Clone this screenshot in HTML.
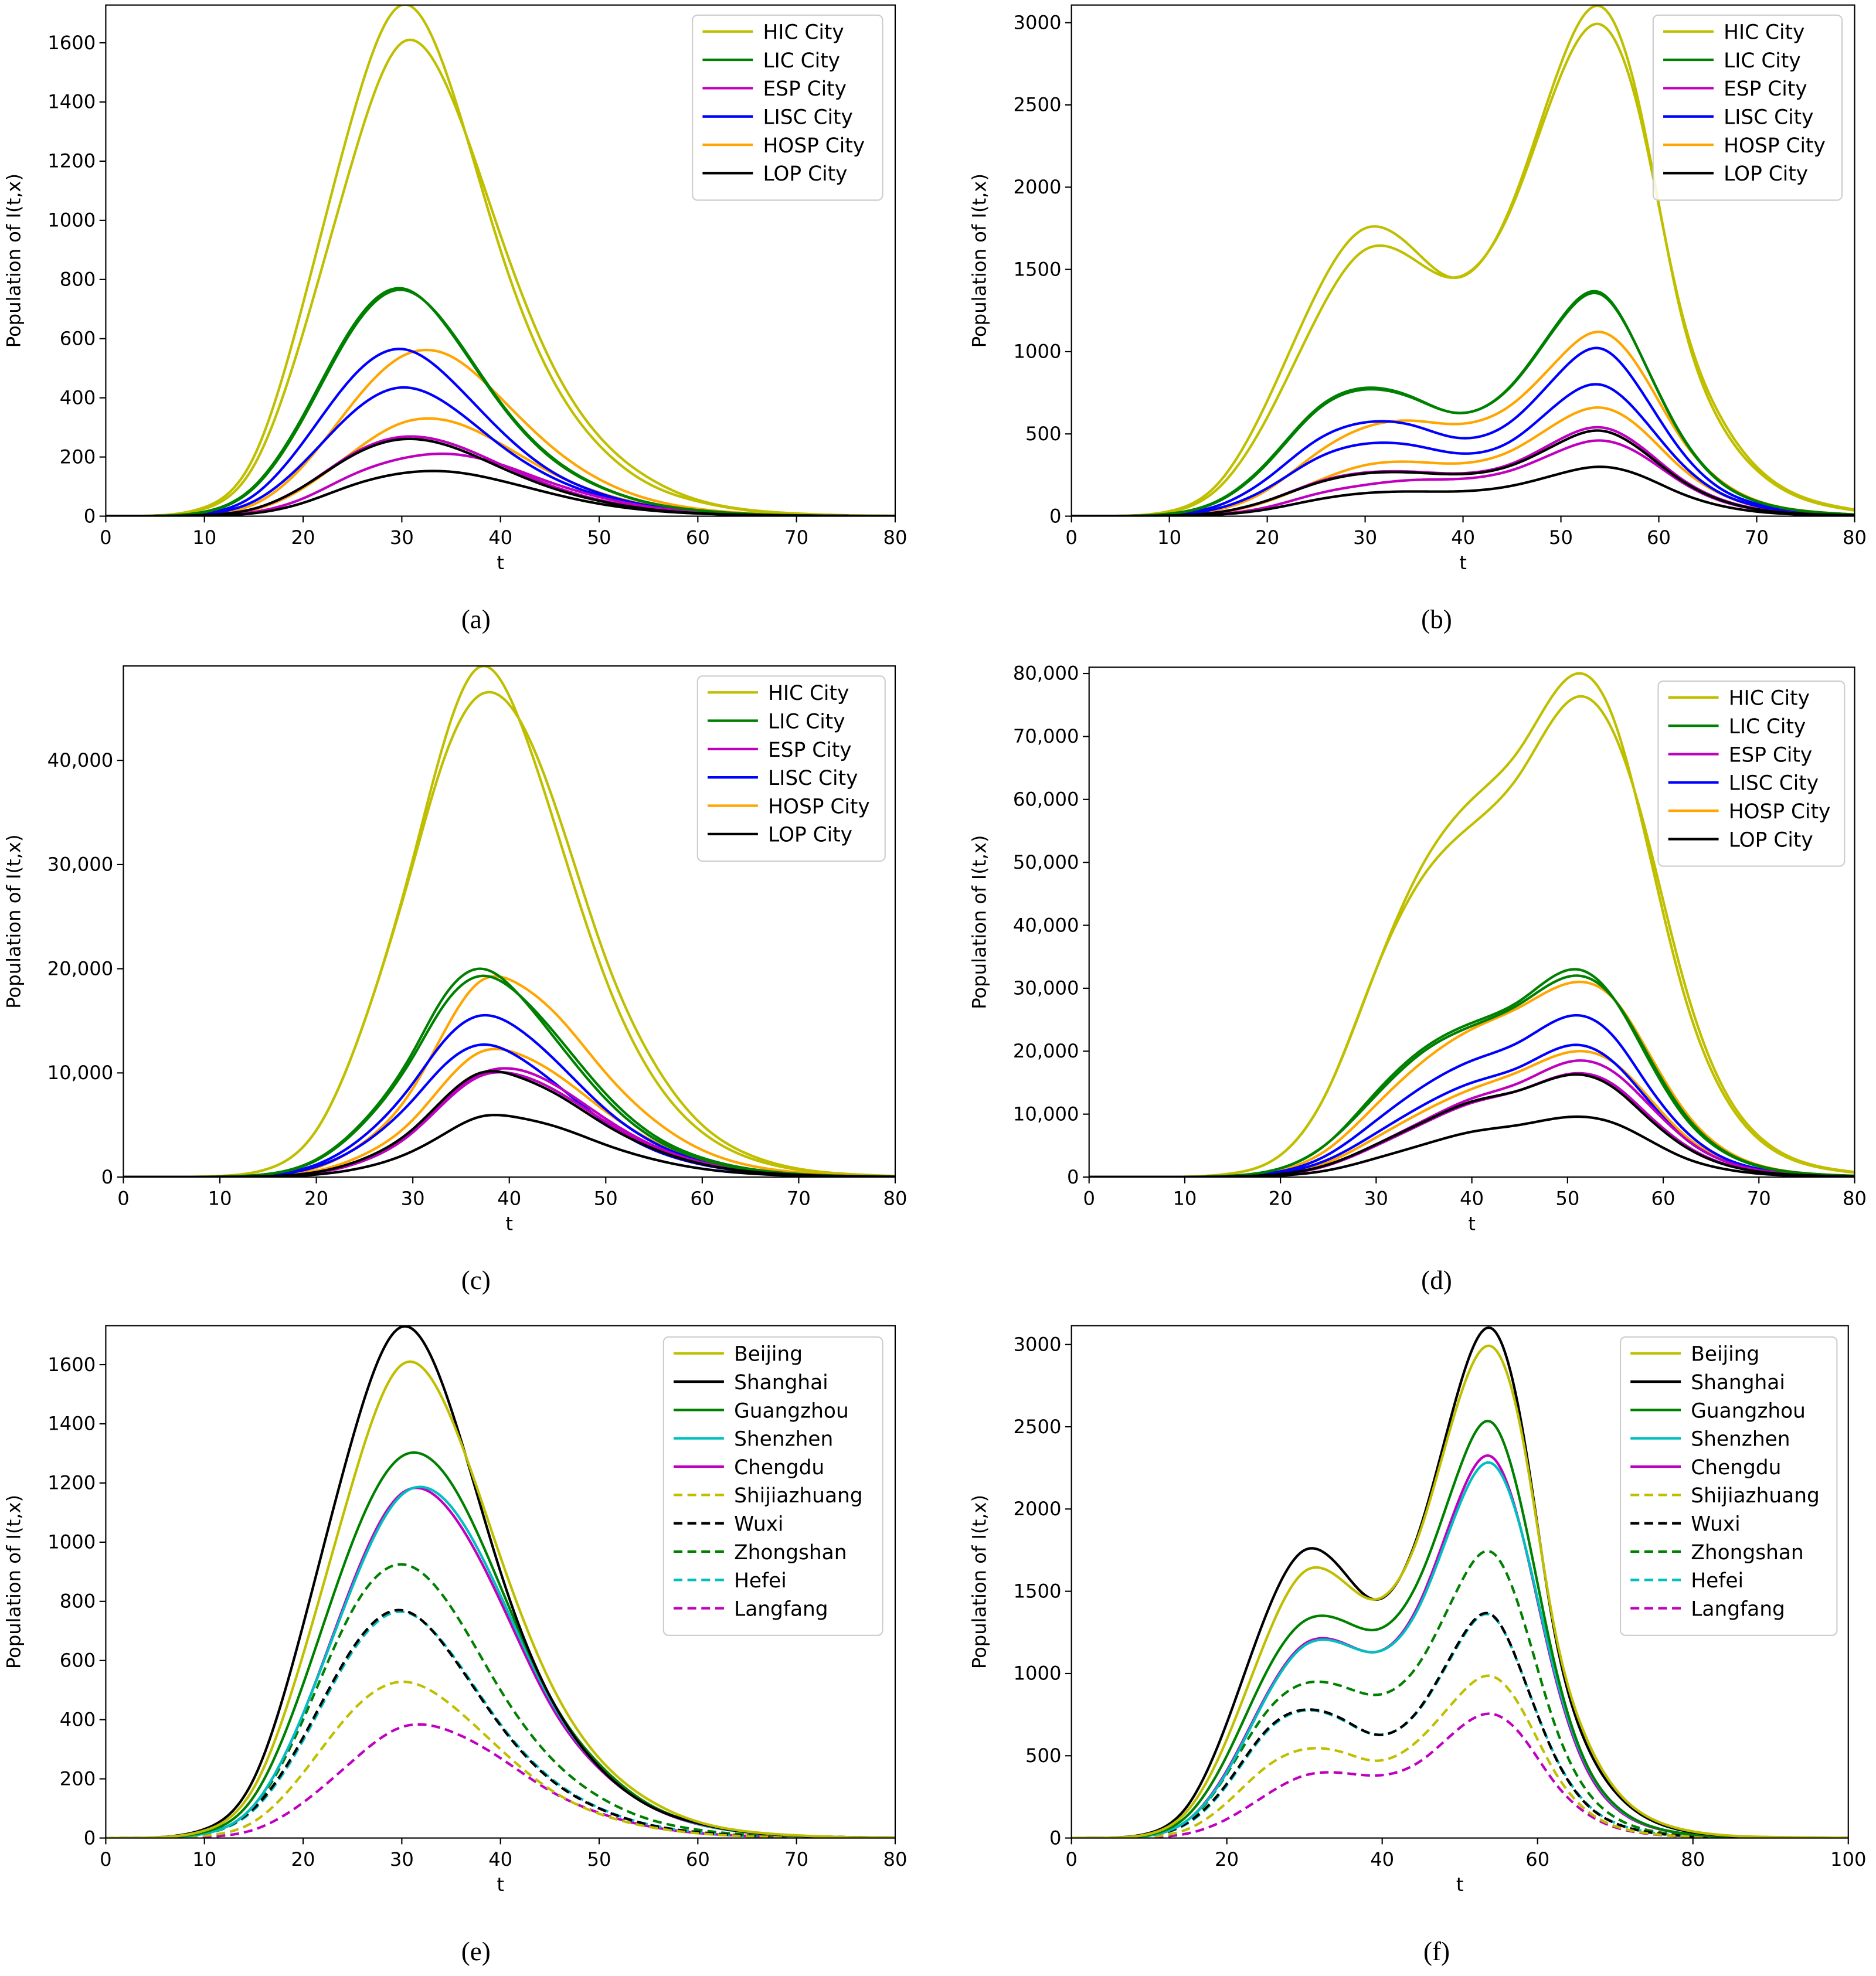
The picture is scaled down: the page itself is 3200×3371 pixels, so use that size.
<!DOCTYPE html>
<html><head><meta charset="utf-8">
<style>
html,body{margin:0;padding:0;background:#fff;}
svg{display:block;}
text{font-family:"DejaVu Sans","Liberation Sans",sans-serif;}
.cap{font-family:"Liberation Serif",serif;font-size:21px;}
</style></head>
<body>
<svg id="fig" width="3200" height="3371" viewBox="0 0 1490 1569.6" xmlns="http://www.w3.org/2000/svg"></svg>
<script>
// ---------- DATA ----------
const tA = [0,5,10,15,20,25,30,35,40,45,50,55,60,65,70,75,80];
const tB = [0,5,10,15,20,25,30,35,39,45,50,54,58,62,66,70,75,80];
const tC = [0,5,10,15,20,25,30,33,37,41,45,50,55,60,65,70,75,80];
const tD = [0,5,10,15,20,25,30,35,40,45,51,55,58,62,66,70,75,80];
const tF = [0,5,10,15,20,25,30,35,39,45,50,54,58,62,66,70,75,80,90,100];

const cityNames = ["HIC City","LIC City","ESP City","LISC City","HOSP City","LOP City"];
const cnNames = ["Beijing","Shanghai","Guangzhou","Shenzhen","Chengdu","Shijiazhuang","Wuxi","Zhongshan","Hefei","Langfang"];

const aHIC1=[0,2,30,200,720,1350,1728,1450,900,480,240,110,50,20,8,3,1];
const aHIC2=[0,2,25,170,620,1200,1600,1420,950,530,270,130,55,22,9,3,1];
const aLIC1=[0,1,15,100,340,640,770,620,380,200,100,45,20,8,3,1,0];
const aLIC2=[0,1,14,95,330,630,765,625,385,205,102,46,20,8,3,1,0];
const aLISC1=[0,1,10,70,250,470,565,460,290,155,78,36,16,6,2,1,0];
const aLISC2=[0,1,8,50,180,350,435,370,240,135,70,33,15,6,2,1,0];
const aHOSP1=[0,1,6,40,170,380,540,540,400,240,125,58,25,10,4,1,0];
const aHOSP2=[0,0,3,22,95,215,315,320,245,150,80,38,17,7,3,1,0];
const aESP1=[0,0,4,25,100,210,268,245,175,105,55,26,11,4,2,1,0];
const aESP2=[0,0,2,14,60,140,195,210,175,115,65,32,14,6,2,1,0];
const aLOP1=[0,0,4,25,100,205,260,235,165,98,52,24,10,4,2,1,0];
const aLOP2=[0,0,2,10,45,105,145,150,120,78,42,20,9,4,1,0,0];

const bHIC1=[0,2,30,200,700,1350,1750,1620,1450,1900,2750,3100,2500,1300,600,280,100,35];
const bHIC2=[0,2,25,170,600,1200,1620,1560,1450,1880,2680,2990,2450,1320,640,300,110,40];
const bLIC1=[0,1,15,95,330,650,780,720,630,800,1200,1360,1000,520,220,90,30,10];
const bLIC2=[0,1,14,90,320,640,770,715,630,795,1190,1350,1000,525,225,92,31,10];
const bLISC1=[0,1,10,65,230,460,570,550,480,580,880,1020,780,420,180,75,25,8];
const bLISC2=[0,1,8,48,170,350,440,430,385,460,700,800,620,340,150,62,20,7];
const bHOSP1=[0,1,6,40,160,380,540,580,560,680,970,1120,900,500,230,95,32,10];
const bHOSP2=[0,0,3,22,90,210,310,330,320,400,580,660,540,310,145,60,20,7];
const bESP1=[0,0,4,24,95,205,265,270,260,320,470,540,430,240,110,45,15,5];
const bESP2=[0,0,2,13,55,135,190,220,225,280,400,460,380,220,100,42,14,5];
const bLOP1=[0,0,4,24,95,200,260,265,255,310,450,520,410,230,105,43,14,5];
const bLOP2=[0,0,2,10,42,100,140,150,150,185,260,300,250,145,68,28,9,3];

const cHIC1=[0,5,100,800,4500,15000,30500,41000,49000,44000,33000,19000,9500,4300,1800,700,250,80];
const cHIC2=[0,5,100,800,4500,15000,30000,39500,46300,44000,35000,21000,11000,5000,2100,800,300,100];
const cLIC1=[0,2,40,300,1700,5500,12000,17000,20000,17500,13000,7500,3700,1700,700,280,100,30];
const cLIC2=[0,2,40,300,1600,5300,11500,16200,19300,17500,13500,8000,4000,1850,780,300,110,35];
const cLISC1=[0,1,30,220,1200,4000,9000,12800,15500,14200,11000,6500,3300,1500,620,240,90,30];
const cLISC2=[0,1,25,180,1000,3300,7400,10500,12700,11500,8800,5200,2600,1200,500,200,70,25];
const cHOSP1=[0,1,20,150,900,3400,8500,13500,18800,18500,15500,10000,5500,2600,1100,450,160,50];
const cHOSP2=[0,1,15,100,600,2200,5500,8700,12000,11800,9800,6300,3400,1600,700,280,100,30];
const cESP1=[0,0,10,70,400,1600,4300,7000,9900,10300,8700,5600,3000,1400,600,240,85,25];
const cESP2=[0,0,10,70,420,1650,4300,6900,9700,9800,8200,5300,2850,1350,570,230,80,25];
const cLOP1=[0,0,12,85,480,1800,4600,7300,10000,9600,7900,5000,2700,1250,530,210,75,25];
const cLOP2=[0,0,6,45,250,950,2500,4000,5800,5700,4800,3100,1700,800,340,135,50,15];

const dHIC1=[0,2,50,600,3500,14000,33000,50000,60000,68000,80000,72000,55000,30000,14000,6000,2000,700];
const dHIC2=[0,2,50,600,3500,14000,33000,48000,56000,64000,76300,70000,56000,32000,15000,6500,2200,800];
const dLIC1=[0,1,20,220,1400,5500,13500,20500,24500,28000,33000,28000,20000,10000,4300,1700,550,180];
const dLIC2=[0,1,20,220,1400,5500,13000,20000,24000,27500,32000,28000,20500,10500,4500,1800,580,190];
const dLISC1=[0,1,12,140,900,3600,9000,14500,18500,21500,25700,22000,15500,7800,3300,1300,420,140];
const dLISC2=[0,1,10,110,700,2800,7000,11500,15000,17500,21000,18000,13000,6500,2800,1100,360,120];
const dHOSP1=[0,1,15,170,1100,4500,11500,18500,23500,27000,31000,28000,21000,11000,4800,1900,600,200];
const dHOSP2=[0,1,8,90,600,2400,6300,10500,14000,16800,20000,18000,13500,7000,3000,1200,390,130];
const dESP1=[0,0,6,70,450,1900,5200,9000,12500,15000,18500,16500,12300,6500,2800,1100,360,120];
const dESP2=[0,0,6,70,450,1900,5000,8600,11800,13800,16500,14500,10500,5400,2300,900,300,100];
const dLOP1=[0,0,7,80,500,2000,5200,8800,12000,13800,16300,14000,10000,5100,2200,870,280,95];
const dLOP2=[0,0,4,40,260,1100,3000,5200,7200,8300,9600,8500,6300,3200,1400,550,180,60];

const eBeijing=[0,2,25,170,620,1200,1600,1420,950,530,270,130,55,22,9,3,1];
const eShanghai=[0,2,30,200,720,1350,1728,1450,900,480,240,110,50,20,8,3,1];
const eGuangzhou=[0,1,20,140,520,1000,1290,1200,850,480,250,115,50,20,8,3,1];
const eShenzhen=[0,1,15,110,420,850,1160,1120,820,470,240,112,48,19,7,3,1];
const eChengdu=[0,1,15,110,420,860,1165,1100,800,455,235,110,47,19,7,3,1];
const eShijiazhuang=[0,0,8,55,220,430,528,450,300,165,82,38,16,6,2,1,0];
const eWuxi=[0,1,15,100,340,640,770,620,380,200,100,45,20,8,3,1,0];
const eZhongshan=[0,1,15,105,400,770,925,780,500,275,140,64,28,11,4,1,0];
const eHefei=[0,1,14,95,330,630,765,625,385,205,102,46,20,8,3,1,0];
const eLangfang=[0,0,4,28,120,260,375,360,270,160,85,40,17,7,3,1,0];

const fBeijing=[0,2,25,170,600,1200,1620,1560,1450,1880,2680,2990,2450,1320,640,300,110,40,6,1];
const fShanghai=[0,2,30,200,700,1350,1750,1620,1450,1900,2750,3100,2500,1300,600,280,100,35,5,1];
const fGuangzhou=[0,1,20,140,500,1000,1320,1320,1265,1600,2250,2530,2000,1100,480,200,65,22,3,0];
const fShenzhen=[0,1,15,110,400,850,1170,1180,1130,1430,2030,2280,1850,1050,470,195,65,22,3,0];
const fChengdu=[0,1,15,110,410,860,1180,1185,1130,1450,2070,2320,1850,1030,450,185,62,21,3,0];
const fShijiazhuang=[0,0,8,55,215,430,540,520,470,610,870,985,780,420,180,72,24,8,1,0];
const fWuxi=[0,1,15,95,330,650,780,720,630,800,1200,1360,1000,520,220,90,30,10,1,0];
const fZhongshan=[0,1,15,100,390,760,940,920,870,1080,1540,1740,1350,720,310,125,40,14,2,0];
const fHefei=[0,1,14,90,320,640,775,715,630,795,1190,1355,1000,525,225,92,31,10,1,0];
const fLangfang=[0,0,4,28,115,260,380,395,380,470,670,755,620,350,160,65,22,7,1,0];

const ticksX80=[0,10,20,30,40,50,60,70,80];
const ticksX100=[0,20,40,60,80,100];
const ticksY1600=[0,200,400,600,800,1000,1200,1400,1600];
const ticksY3000=[0,500,1000,1500,2000,2500,3000];
const ticksY40k=[0,10000,20000,30000,40000];
const ticksY80k=[0,10000,20000,30000,40000,50000,60000,70000,80000];

// ---------- DRAW ----------
const NS="http://www.w3.org/2000/svg";
const svg=document.getElementById('fig');
const Y="#bfbf00",G="#008000",M="#bf00bf",B="#0000ff",O="#ffa500",K="#000000",C="#00bfbf";
function el(tag,attrs,parent){const e=document.createElementNS(NS,tag);for(const k in attrs)e.setAttribute(k,attrs[k]);(parent||svg).appendChild(e);return e;}
function fmt(v){return v>=10000?v.toLocaleString('en-US'):String(v);}
function spline(xs,ys){
  const n=xs.length,h=[],a=new Array(n).fill(0),b=new Array(n).fill(0),c=new Array(n).fill(0),r=new Array(n).fill(0);
  for(let i=0;i<n-1;i++)h.push(xs[i+1]-xs[i]);
  b[0]=1;b[n-1]=1;
  for(let i=1;i<n-1;i++){a[i]=h[i-1];b[i]=2*(h[i-1]+h[i]);c[i]=h[i];r[i]=6*((ys[i+1]-ys[i])/h[i]-(ys[i]-ys[i-1])/h[i-1]);}
  for(let i=1;i<n;i++){const w=a[i]/b[i-1];b[i]-=w*c[i-1];r[i]-=w*r[i-1];}
  const M2=new Array(n);M2[n-1]=r[n-1]/b[n-1];
  for(let i=n-2;i>=0;i--)M2[i]=(r[i]-c[i]*M2[i+1])/b[i];
  return t=>{let i=0;while(i<n-2&&t>xs[i+1])i++;const hh=h[i],A=(xs[i+1]-t)/hh,Bb=(t-xs[i])/hh;
    return A*ys[i]+Bb*ys[i+1]+((A*A*A-A)*M2[i]+(Bb*Bb*Bb-Bb)*M2[i+1])*hh*hh/6;};
}
function panel(p){
  const g=el('g',{});
  
  
  const sx=v=>p.x0+(v-p.xmin)/(p.xmax-p.xmin)*(p.x1-p.x0);
  const sy=v=>p.y0-v*p.ky;
  const clip='c'+p.name;
  const cp=el('clipPath',{id:clip},g);el('rect',{x:p.x0,y:p.top,width:p.x1-p.x0,height:p.y0-p.top},cp);
  const lg=el('g',{'clip-path':`url(#${clip})`},g);
  p.series.forEach(s=>{
    const f=spline(p.t,s.v);let d='';
    for(let t=p.xmin;t<=p.xmax+1e-9;t+=(p.xmax-p.xmin)/400){d+=(d?'L':'M')+sx(t).toFixed(2)+','+sy(Math.max(0,f(t))).toFixed(2);}
    const path=el('path',{d,fill:'none',stroke:s.c,'stroke-width':2,'stroke-dasharray':s.dash?'7,4':'none'},lg);
    
    
  });
  const fr=el('rect',{x:p.x0,y:p.top,width:p.x1-p.x0,height:p.y0-p.top,fill:'none',stroke:'#000','stroke-width':1},g);
  
  
  p.xt.forEach(v=>{const x=sx(v);el('line',{x1:x,x2:x,y1:p.y0,y2:p.y0+5,stroke:'#000'},g);
    const t=el('text',{x,y:p.y0+22,'font-size':15,'text-anchor':'middle'},g);t.textContent=v;
    
    });
  p.yt.forEach(v=>{const y=sy(v);el('line',{x1:p.x0-5,x2:p.x0,y1:y,y2:y,stroke:'#000'},g);
    const t=el('text',{x:p.x0-8,y:y+5,'font-size':15,'text-anchor':'end'},g);t.textContent=fmt(v);
    
    });
  const xl=el('text',{x:(p.x0+p.x1)/2,y:p.y0+42,'font-size':15,'text-anchor':'middle'},g);xl.textContent='t';
  
  
  const yc=(p.top+p.y0)/2;
  const yl=el('text',{x:p.ylx,y:yc,'font-size':15,'text-anchor':'middle',transform:`rotate(-90 ${p.ylx} ${yc})`},g);yl.textContent='Population of I(t,x)';
  
  
  const L=p.leg,n=L.items.length;
  const lb=el('rect',{x:L.x,y:L.y,width:L.w,height:n*22.5+12,rx:4,fill:'#fff','fill-opacity':0.85,stroke:'#ccc'},g);
  
  
  L.items.forEach((it,i)=>{const y=L.y+13+i*22.5;
    el('line',{x1:L.x+8,x2:L.x+48,y1:y,y2:y,stroke:it.c,'stroke-width':2,'stroke-dasharray':it.dash?'7,4':'none'},g);
    const t=el('text',{x:L.x+56,y:y+6,'font-size':16},g);t.textContent=it.n;
    
    });
  const cap=el('text',{x:p.capx,y:p.capy,'text-anchor':'middle',class:'cap'},g);cap.textContent=p.cap;
  
  
}
const cityCols=[Y,G,M,B,O,K];
const cityLeg=cityNames.map((n,i)=>({n,c:cityCols[i]}));
function citySeries(a){return [
 {n:'HIC1',c:Y,v:a[0]},{n:'HIC2',c:Y,v:a[1]},{n:'HOSP1',c:O,v:a[8]},{n:'HOSP2',c:O,v:a[9]},
 {n:'LISC1',c:B,v:a[6]},{n:'LISC2',c:B,v:a[7]},{n:'ESP1',c:M,v:a[4]},{n:'ESP2',c:M,v:a[5]},
 {n:'LIC1',c:G,v:a[2]},{n:'LIC2',c:G,v:a[3]},{n:'LOP1',c:K,v:a[10]},{n:'LOP2',c:K,v:a[11]}];}
const cnCols=[Y,K,G,C,M,Y,K,G,C,M];
const cnLeg=cnNames.map((n,i)=>({n,c:cnCols[i],dash:i>=5}));
function cnSeries(a){return cnNames.map((n,i)=>({n,c:cnCols[i],dash:i>=5,v:a[i]})).reverse();}

panel({name:'panel-a',t:tA,x0:84,x1:711,top:4,y0:410,xmin:0,xmax:80,ky:376/1600,xt:ticksX80,yt:ticksY1600,ylx:16,
 series:citySeries([aHIC1,aHIC2,aLIC1,aLIC2,aESP1,aESP2,aLISC1,aLISC2,aHOSP1,aHOSP2,aLOP1,aLOP2]),
 leg:{x:550,y:12,w:151,items:cityLeg},cap:'(a)',capx:378,capy:499});
panel({name:'panel-b',t:tB,x0:851,x1:1473,top:4,y0:410,xmin:0,xmax:80,ky:392/3000,xt:ticksX80,yt:ticksY3000,ylx:783,
 series:citySeries([bHIC1,bHIC2,bLIC1,bLIC2,bESP1,bESP2,bLISC1,bLISC2,bHOSP1,bHOSP2,bLOP1,bLOP2]),
 leg:{x:1313,y:12,w:150,items:cityLeg},cap:'(b)',capx:1141,capy:499});
panel({name:'panel-c',t:tC,x0:98,x1:711,top:529,y0:935,xmin:0,xmax:80,ky:331/40000,xt:ticksX80,yt:ticksY40k,ylx:16,
 series:citySeries([cHIC1,cHIC2,cLIC1,cLIC2,cESP1,cESP2,cLISC1,cLISC2,cHOSP1,cHOSP2,cLOP1,cLOP2]),
 leg:{x:554,y:537,w:149,items:cityLeg},cap:'(c)',capx:378,capy:1024});
panel({name:'panel-d',t:tD,x0:865,x1:1473,top:530,y0:935,xmin:0,xmax:80,ky:400/80000,xt:ticksX80,yt:ticksY80k,ylx:783,
 series:citySeries([dHIC1,dHIC2,dLIC1,dLIC2,dESP1,dESP2,dLISC1,dLISC2,dHOSP1,dHOSP2,dLOP1,dLOP2]),
 leg:{x:1317,y:541,w:148,items:cityLeg},cap:'(d)',capx:1141,capy:1024});
panel({name:'panel-e',t:tA,x0:84,x1:711,top:1053,y0:1460,xmin:0,xmax:80,ky:376/1600,xt:ticksX80,yt:ticksY1600,ylx:16,
 series:cnSeries([eBeijing,eShanghai,eGuangzhou,eShenzhen,eChengdu,eShijiazhuang,eWuxi,eZhongshan,eHefei,eLangfang]),
 leg:{x:527,y:1062,w:174,items:cnLeg},cap:'(e)',capx:378,capy:1557});
panel({name:'panel-f',t:tF,x0:851,x1:1468,top:1053,y0:1460,xmin:0,xmax:100,ky:392/3000,xt:ticksX100,yt:ticksY3000,ylx:783,
 series:cnSeries([fBeijing,fShanghai,fGuangzhou,fShenzhen,fChengdu,fShijiazhuang,fWuxi,fZhongshan,fHefei,fLangfang]),
 leg:{x:1287,y:1062,w:172,items:cnLeg},cap:'(f)',capx:1141,capy:1557});
</script>
</body></html>
